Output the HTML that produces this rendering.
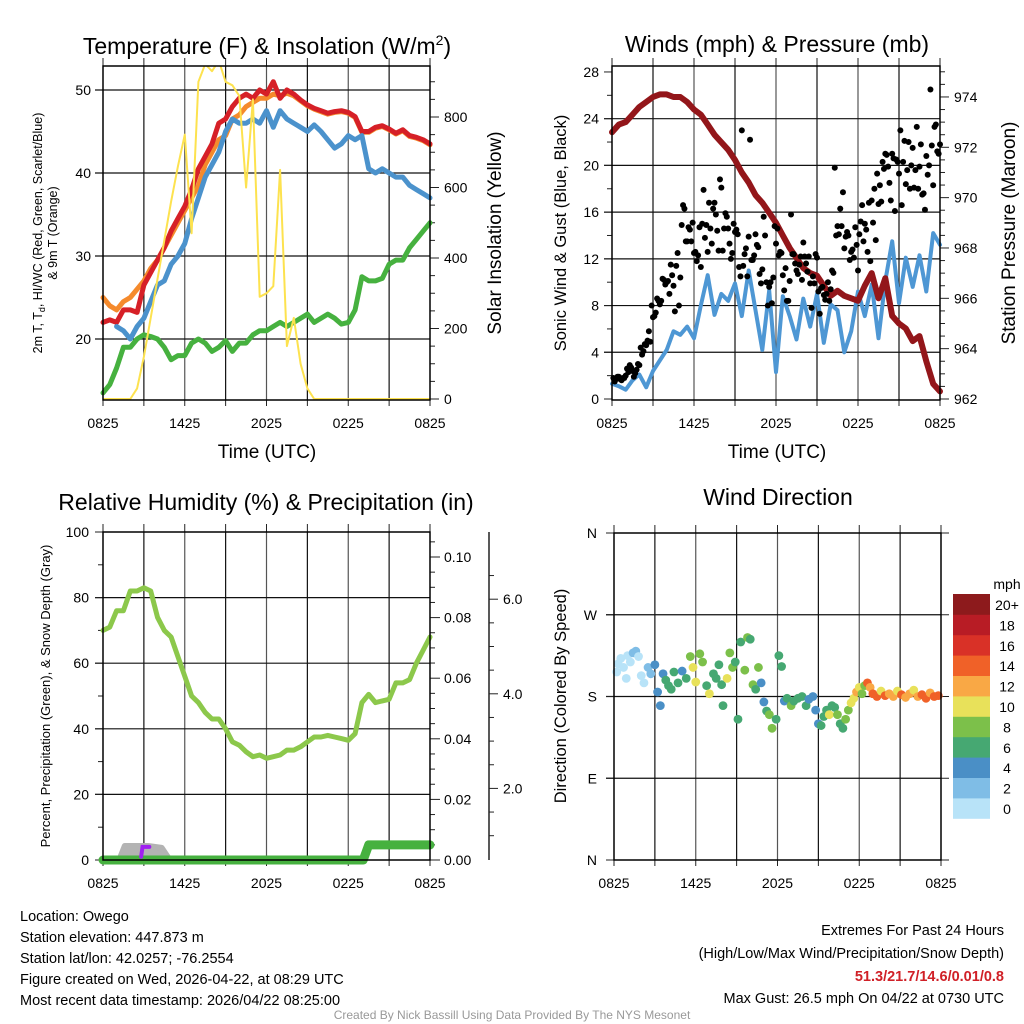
<!DOCTYPE html>
<html><head><meta charset="utf-8">
<style>
body{margin:0;background:#fff;}
svg{display:block;font-family:"Liberation Sans",Arial,sans-serif;}
</style></head>
<body>
<svg id="fig" width="1024" height="1024" viewBox="0 0 1024 1024" xmlns="http://www.w3.org/2000/svg">
<rect width="1024" height="1024" fill="#fff"/>
<g id="layer"></g>
<text x="267" y="54" font-size="23" text-anchor="middle">Temperature (F) &amp; Insolation (W/m<tspan font-size="14" dy="-9">2</tspan><tspan dy="9">)</tspan></text>
<text x="777" y="52" font-size="23" text-anchor="middle">Winds (mph) &amp; Pressure (mb)</text>
<text x="266" y="510" font-size="23" text-anchor="middle">Relative Humidity (%) &amp; Precipitation (in)</text>
<text x="778" y="505" font-size="23" text-anchor="middle">Wind Direction</text>
<text x="267" y="458" font-size="19" text-anchor="middle">Time (UTC)</text>
<text x="777" y="458" font-size="19" text-anchor="middle">Time (UTC)</text>
<text transform="translate(42,233) rotate(-90)" font-size="12.5" text-anchor="middle">2m T, T<tspan font-size="9" dy="3">d</tspan><tspan dy="-3">, HI/WC (Red, Green, Scarlet/Blue)</tspan></text>
<text transform="translate(57,233) rotate(-90)" font-size="12.5" text-anchor="middle">&amp; 9m T (Orange)</text>
<text transform="translate(501,233) rotate(-90)" font-size="19" text-anchor="middle">Solar Insolation (Yellow)</text>
<text transform="translate(566,233) rotate(-90)" font-size="16.5" text-anchor="middle">Sonic Wind &amp; Gust (Blue, Black)</text>
<text transform="translate(1015,233) rotate(-90)" font-size="19" text-anchor="middle">Station Pressure (Maroon)</text>
<text transform="translate(50,696) rotate(-90)" font-size="13" text-anchor="middle">Percent, Precipitation (Green), &amp; Snow Depth (Gray)</text>
<text transform="translate(566,696) rotate(-90)" font-size="16.5" text-anchor="middle">Direction (Colored By Speed)</text>
<g font-size="14.5">
<text x="20" y="921">Location: Owego</text>
<text x="20" y="942">Station elevation: 447.873 m</text>
<text x="20" y="963">Station lat/lon: 42.0257; -76.2554</text>
<text x="20" y="984">Figure created on Wed, 2026-04-22, at 08:29 UTC</text>
<text x="20" y="1005">Most recent data timestamp: 2026/04/22 08:25:00</text>
</g>
<g font-size="14.5" text-anchor="end">
<text x="1004" y="935">Extremes For Past 24 Hours</text>
<text x="1004" y="958">(High/Low/Max Wind/Precipitation/Snow Depth)</text>
<text x="1004" y="981" fill="#d02027" font-weight="bold">51.3/21.7/14.6/0.01/0.8</text>
<text x="1004" y="1003">Max Gust: 26.5 mph On 04/22 at 0730 UTC</text>
</g>
<text x="512" y="1019" font-size="12" fill="#999" text-anchor="middle">Created By Nick Bassill Using Data Provided By The NYS Mesonet</text>
</svg>
<script>
// ---- data (half-hourly from 0825 UTC, hours 0..24) ----
const timeLabels = ["0825","1425","2025","0225","0825"];
const tempRed = [22,22.3,22,23.5,23.5,23.2,26.5,28,29.5,31,33,34.5,36,38,40.5,42,43.5,46,46.5,48,49,49.5,49,50,49.5,51,49,50,49.5,48.8,48.2,47.8,47.5,47.2,47.4,47.5,47.3,46.8,45,45,45.5,45.7,45.3,44.8,45.2,44.5,44.3,44,43.5];
const tempOrange = [25,24,23.5,24.5,25,26,27,28.5,29.5,31,32.5,34,35.5,37,38.5,41,42.5,44,44.5,46.5,47,48,48.5,49,49,49.5,49.3,49.6,49.3,48.7,48.1,47.7,47.4,47.1,47.3,47.4,47.2,46.7,44.9,44.9,45.4,45.6,45.2,44.7,45.1,44.4,44.2,43.9,43.4];
const tempBlue = [null,null,21.5,21,20,21.5,22.5,24.5,26.5,27,29,30,31.5,34.5,37,39.5,41,42.5,45,46.5,46,46,46.5,46,47.5,45.5,47.5,46.5,46,45.5,45,45.8,45,44,43,43.5,44.5,44,44.5,40.5,40,40.5,40,39.5,39.5,38.5,38,37.5,37];
const tempGreen = [13.5,14.5,16.5,19,19,20,20.5,20.3,20,19,17.5,18,18,19.5,20,19.5,18.5,19,19.8,18.5,19.5,19.5,20.5,21,21,21.5,22,21.5,22,22.5,23,22,22.5,23,22.5,21.8,22,23.5,27.5,27,27,27.3,29,29.5,29.5,31,32,33,34];
const solar = [0,0,0,0,0,30,120,230,340,450,560,660,750,470,900,950,930,960,900,890,860,600,850,290,300,320,650,150,230,100,30,0,0,0,0,0,0,0,0,0,0,0,0,0,0,0,0,0,0];
const windSpeed = [1.3,1.1,0.8,1.6,2.1,1.0,2.4,3.3,4.2,5.8,5.5,6.2,5.2,8.0,10.6,7.2,9.0,8.4,9.9,7.1,11.0,7.6,4.2,9.3,2.3,8.8,7.1,5.1,8.6,6.2,9.0,4.8,8.1,7.6,4.0,5.8,9.2,7.1,9.8,5.2,10.1,13.5,8.2,12.1,9.6,12.3,9.2,14.2,13.2];
const pressure = [972.6,972.9,973,973.3,973.6,973.8,974,974.1,974.1,974.0,974,973.8,973.5,973.3,972.9,972.5,972.2,971.9,971.5,971,970.6,970.1,969.8,969.4,969,968.5,968,967.6,967.2,967,966.9,966.5,966.1,966.3,966.1,966.0,965.9,966.5,967,966,966.8,965.3,965.0,964.8,964.3,964.5,963.5,962.6,962.3];
const gustHours = [];
for (let i=0;i<120;i++) gustHours.push(0.1+i*0.2);
const gustA = [1.8,1.7,1.9,1.6,1.8,2.6,2.9,2.4,2.2,3.0, 4.4,4.1,4.6,5.8,8.0,7.1,8.6,8.1,10.3,9.8, 10.1,11.5,9.7,11.4,8.0,14.9,16.3,13.5,14.5,15.1, 12.6,12.3,11.3,17.9,14.9,16.8,13.3,16.8,14.4,18.8, 12.7,15.9,14.6,12.0,15.0,14.5,11.3,23.0,12.4,10.5, 22.2,11.9,14.1,13.0,9.9,15.6,10.0,9.6,8.2,14.8, 14.6,12.6,10.6,11.2,8.4,15.8,12.4,11.0,11.5,10.2, 12.2,10.9,9.9,10.5,12.4,9.2,9.5,8.9,9.0,8.4, 11.0,19.8,14.8,16.3,17.7,13.9,14.0,12.6,12.1,13.2, 14.1,16.6,15.0,12.6,11.8,15.1,13.6,16.7,16.9,19.7, 20.9,18.5,21.0,16.1,20.3,23.0,20.3,18.4,22.0,20.0, 18.1,23.3,19.9,17.5,16.2,19.2,26.5,18.3,23.5,21.0];
const gustB = [1.5,1.9,1.7,1.8,2.0,2.3,2.7,1.9,2.5,2.9, 3.8,4.7,5.0,4.9,7.0,7.4,8.4,8.4,10.2,10.0, 9.0,10.6,7.5,12.5,10.4,16.6,13.5,14.7,13.5,12.5, 11.8,14.7,15.0,13.8,12.6,14.6,16.3,15.8,12.7,18.1, 14.6,15.6,13.3,12.5,14.3,14.1,10.5,11.4,12.9,13.9, 11.9,12.3,13.2,10.7,11.1,14.0,8.0,10.0,10.4,13.3, 12.3,12.5,9.3,8.4,10.1,12.4,11.6,10.7,12.2,13.4, 11.6,12.2,7.8,9.9,12.1,7.3,9.6,8.5,10.0,9.4, 10.8,14.0,14.1,14.8,12.9,14.3,11.9,12.8,14.7,11.0, 15.2,13.5,14.5,16.8,17.0,18.0,19.3,18.3,20.3,21.0, 19.9,17.0,20.6,20.5,19.3,16.6,22.1,19.6,18.0,21.5, 19.6,18.0,21.8,17.6,20.8,20.0,21.7,23.3,21.2,21.8];
const rh = [70,71,76,76,82,82,83,82,74,70,68,62,56,50,48,45,43,43,40,36,35,33,31.5,32,31,31.5,32,33.5,33.5,34.5,36,37.5,37.5,38,37.5,37,36.5,38.5,48,50.5,48,48.5,49,54,54,55,60,64,68];
const precipHours = [0,19.1,19.5,24];
const precipVals = [0,0,0.005,0.005];
const snowHours = [1.2,1.6,3.3,4.3,4.9];
const snowVals = [0,0.8,0.8,0.7,0];
const wdHours = [0.2,0.3,0.5,0.7,0.9,1.0,1.2,1.4,1.6,1.8,2.0,2.2,2.5,2.7,3.0,3.2,3.4,3.6,3.8,4.0,4.2,4.4,4.7,5.0,5.3,5.6,5.8,6.0,6.3,6.5,6.8,7.0,7.3,7.5,7.7,7.9,8.0,8.3,8.5,8.7,8.9,9.1,9.3,9.6,9.8,10.0,10.2,10.4,10.6,10.8,11.0,11.2,11.4,11.6,11.9,12.1,12.3,12.5,12.7,13.0,13.2,13.5,13.8,14.1,14.3,14.6,14.8,15.0,15.2,15.4,15.6,15.8,16.0,16.2,16.4,16.6,16.8,17.0,17.2,17.4,17.6,17.8,18.0,18.2,18.4,18.6,18.8,19.0,19.3,19.6,19.9,20.2,20.5,20.8,21.1,21.4,21.7,22.0,22.3,22.6,22.9,23.2,23.5,23.8];
const wdDir = [207,216,222,212,200,225,218,228,230,224,203,195,212,205,215,185,170,205,198,192,188,207,195,208,200,224,212,196,227,218,192,183,205,200,215,193,170,200,228,212,218,155,240,209,245,243,193,188,212,195,174,164,160,145,155,225,213,175,178,170,175,178,180,170,177,180,165,150,148,158,165,160,170,168,160,150,145,155,165,173,178,185,190,183,192,195,190,183,180,186,181,183,180,186,182,179,183,187,180,182,178,184,180,181];
const wdSpd = [1,1.5,1,0.5,1,1.8,1.2,2.5,3,1,1.5,1.8,3,2.5,4.5,4.5,4.5,5,6,6.5,7,7,6,5,6,8,11,10.5,9,8,7,10,6,6,7,7.5,7,10.5,8,9,7,7,7,8,8,6,8,6,9,4,4,6.5,8,9,7,6,7,5,7,8,6,7,7,7,4,5,5,4,6,6,7,10,7,7.5,8,7,6,8,8,10,11,13,11,9,9,14,13,14,14.5,11,14,13,12,11,14,13,12,10,13,14,14.5,13,15,14];
const speedBins = ["0","2","4","6","8","10","12","14","16","18","20+"];
const speedColors = ["#b8e3f8","#7fbde6","#4a8fc6","#46a872","#7cc04a","#e8e15a","#f9a845","#f06128","#d93127","#b81c25","#8d1a1c"];

const NS="http://www.w3.org/2000/svg";
const layer=document.getElementById('layer');
function mk(tag,attrs,parent){const e=document.createElementNS(NS,tag);for(const k in attrs)e.setAttribute(k,attrs[k]);(parent||layer).appendChild(e);return e;}
function txt(x,y,s,size,anchor,parent){const t=mk('text',{x:x,y:y,'font-size':size,'text-anchor':anchor||'middle'},parent);t.textContent=s;return t;}

function panel(x0,x1,y0,y1){return {x0,x1,y0,y1,hx:h=>x0+h*(x1-x0)/24};}
const P1=panel(103,430,66,400), P2=panel(612,940,66,400), P3=panel(103,430,532,860), P4=panel(614,941,533,860);
const y1L=v=>400-(v-12.65)*8.3, y1R=v=>399-v*0.3525;
const y2L=v=>399-v*11.68, y2R=v=>399-(v-962)*25.17;
const y3L=v=>860-v*3.28, y3P=v=>860-v*3030, y3S=v=>883-v*47.3, y3Snow=v=>860-v*17.5;
const y4=d=>860-d*0.9083;

function frame(P,name){
  const g=mk('g',{});
  
  
  for(let i=1;i<8;i++){const x=P.x0+i*(P.x1-P.x0)/8;mk('line',{x1:x,x2:x,y1:P.y0,y2:P.y1,stroke:i%2?'#111':'#555','stroke-width':1.2},g);}
  for(let i=0;i<=8;i++){const x=P.x0+i*(P.x1-P.x0)/8;mk('line',{x1:x,x2:x,y1:P.y0-8,y2:P.y0,stroke:'#222'},g);mk('line',{x1:x,x2:x,y1:P.y1,y2:P.y1+6,stroke:'#222'},g);}
  timeLabels.forEach((s,i)=>{const t=txt(P.hx(i*6),P.y1+28,s,14,'middle',g);
    
    });
  return g;
}
function border(P,name){const r=mk('rect',{x:P.x0,y:P.y0,width:P.x1-P.x0,height:P.y1-P.y0,fill:'none',stroke:'#000','stroke-width':1.5});
  
  }
function hgrid(P,ys,g){ys.forEach(y=>mk('line',{x1:P.x0-8,x2:P.x1,y1:y,y2:y,stroke:'#111','stroke-width':1.2},g));}
function path(P,hours,vals,yf,color,w,name){
  let d='';let pen=false;
  vals.forEach((v,i)=>{if(v===null){pen=false;return;}d+=(pen?'L':'M')+P.hx(hours(i)).toFixed(1)+','+yf(v).toFixed(1);pen=true;});
  const p=mk('path',{d:d,fill:'none',stroke:color,'stroke-width':w,'stroke-linejoin':'round','stroke-linecap':'round'});
  
  
  return p;
}
const half=i=>i*0.5;

// ---------- Panel 1 ----------
const g1=frame(P1,'temperature');
hgrid(P1,[20,30,40,50].map(y1L),g1);
[20,30,40,50].forEach(v=>{const t=txt(P1.x0-12,y1L(v)+5,String(v),14,'end');
  
  });
for(let v=0;v<=900;v+=50){const y=y1R(v);mk('line',{x1:P1.x1,x2:P1.x1+(v%200===0?9:5),y1:y,y2:y,stroke:'#222'});
  if(v%200===0){const t=txt(P1.x1+14,y+5,String(v),14,'start');
  
  }}
const clip=mk('clipPath',{id:'c1'});mk('rect',{x:P1.x0,y:P1.y0,width:P1.x1-P1.x0,height:P1.y1-P1.y0},clip);
path(P1,half,tempGreen,y1L,'#46b13f',5,'dewpoint-line');
path(P1,half,tempOrange,y1L,'#f58a2c',5,'9m-temperature-line');
path(P1,half,tempRed,y1L,'#d62027',5,'2m-temperature-line');
path(P1,half,tempBlue,y1L,'#4b92cc',5,'windchill-line');
path(P1,half,solar,y1R,'#fde24f',2,'solar-insolation-line').setAttribute('clip-path','url(#c1)');
border(P1,'temperature');

// ---------- Panel 2 ----------
const g2=frame(P2,'winds');
hgrid(P2,[4,8,12,16,20,24].map(y2L),g2);
for(let v=0;v<=28;v+=2){const y=y2L(v);mk('line',{x1:P2.x0-(v%4===0?8:5),x2:P2.x0,y1:y,y2:y,stroke:'#222'});
  if(v%4===0){const t=txt(P2.x0-13,y+5,String(v),14,'end');
  
  }}
for(let v=962;v<=975;v+=0.5){const y=y2R(v);if(y<P2.y0)continue;mk('line',{x1:P2.x1,x2:P2.x1+(v%2===0?9:5),y1:y,y2:y,stroke:'#222'});
  if(v%2===0){const t=txt(P2.x1+14,y+5,String(v),14,'start');
  
  }}
path(P2,half,windSpeed,y2L,'#4e97d4',4,'sonic-wind-line');
path(P2,half,pressure,y2R,'#93161a',6,'station-pressure-line');
const gg=mk('g',{});


gustHours.forEach((h,i)=>{
  const a=mk('circle',{cx:P2.hx(h),cy:y2L(gustA[i]),r:3,fill:'#000'},gg);
  
  
  const b=mk('circle',{cx:P2.hx(h+0.1),cy:y2L(gustB[i]),r:3,fill:'#000'},gg);
  
  
});
border(P2,'winds');

// ---------- Panel 3 ----------
const g3=frame(P3,'humidity');
hgrid(P3,[20,40,60,80].map(y3L),g3);
for(let v=0;v<=100;v+=10){const y=y3L(v);mk('line',{x1:P3.x0-(v%20===0?8:5),x2:P3.x0,y1:y,y2:y,stroke:'#222'});
  if(v%20===0){const t=txt(P3.x0-14,y+5,String(v),14,'end');
  
  }}
for(let k=0;k<=21;k++){const v=k*0.005;const y=y3P(v);mk('line',{x1:P3.x1,x2:P3.x1+(k%4===0?10:5),y1:y,y2:y,stroke:'#222'});
  if(k%4===0){const t=txt(P3.x1+14,y+5,v.toFixed(2),14,'start');
  
  }}
const sx=489;mk('line',{x1:sx,x2:sx,y1:532,y2:860,stroke:'#222','stroke-width':1.5});
for(let k=2;k<=13;k++){const v=k*0.5;const y=y3S(v);mk('line',{x1:sx,x2:sx+(k%4===0?9:5),y1:y,y2:y,stroke:'#222'});
  if(k%4===0){const t=txt(sx+14,y+5,v.toFixed(1),14,'start');
  
  }}
const snowP=path(P3,i=>snowHours[i],snowVals,y3Snow,'#b3b3b3',6,'snow-depth-area');
snowP.setAttribute('fill','#b3b3b3');
path(P3,half,rh,y3L,'#8cc84b',5,'relative-humidity-line');
path(P3,i=>precipHours[i],precipVals,y3P,'#46b13f',9,'precipitation-line');
const pu=mk('path',{d:`M${P3.hx(2.8)},${y3L(1)} L${P3.hx(2.9)},${y3L(4)} L${P3.hx(3.4)},${y3L(4)}`,fill:'none',stroke:'#a020f0','stroke-width':4,'stroke-linecap':'round'});


border(P3,'humidity');

// ---------- Panel 4 ----------
const g4=frame(P4,'direction');
const dirLabels=["N","E","S","W","N"];
hgrid(P4,[90,180,270].map(y4),g4);
dirLabels.forEach((s,i)=>{const y=y4(i*90);mk('line',{x1:P4.x0-8,x2:P4.x0,y1:y,y2:y,stroke:'#222'});mk('line',{x1:P4.x1,x2:P4.x1+8,y1:y,y2:y,stroke:'#222'});
  const t=txt(P4.x0-17,y+5,s,14,'end');
  
  });
const gd=mk('g',{});


wdHours.forEach((h,i)=>{
  const bin=Math.min(10,Math.floor(wdSpd[i]/2));
  const c=mk('circle',{cx:P4.hx(h),cy:y4(wdDir[i]),r:4.4,fill:speedColors[bin]},gd);
  
  
});
border(P4,'direction');
const cb=mk('g',{});


const mt=txt(1007,589,'mph',14,'middle',cb);


speedBins.forEach((s,i)=>{
  const k=10-i;const y=594+k*20.4;
  const r=mk('rect',{x:953,y:y,width:37,height:20.8,fill:speedColors[i]},cb);
  
  
  const t=txt(1007,y+16,s,14,'middle',cb);
  
  
});
</script>
</body></html>
